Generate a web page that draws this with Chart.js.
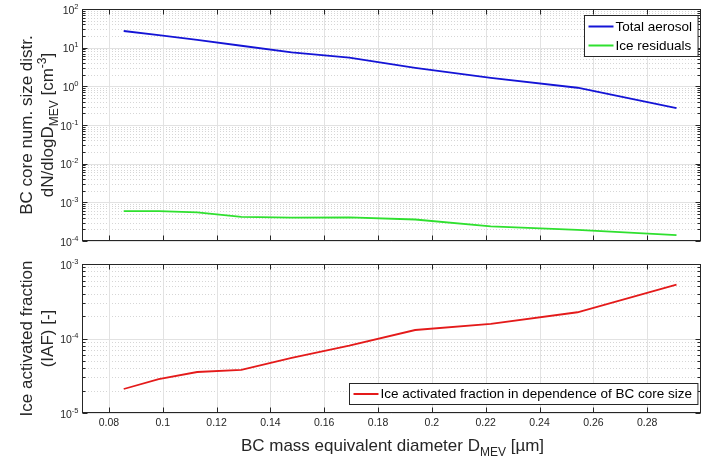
<!DOCTYPE html>
<html>
<head>
<meta charset="utf-8">
<script src="https://cdn.jsdelivr.net/npm/chart.js@4/dist/chart.umd.min.js"></script>
<style>
html,body{margin:0;padding:0;background:#fff;}
#wrap{position:relative;width:709px;height:457px;overflow:hidden;}
canvas{position:absolute;left:0;top:0;}
</style>
</head>
<body>
<div id="wrap">
<canvas id="c1" width="709" height="457"></canvas>
<canvas id="c2" width="709" height="457"></canvas>
</div>
<script>
// ---- data ----
const diameters    = [0.0855, 0.0985, 0.1128, 0.1292, 0.1479, 0.1693, 0.1938, 0.2219, 0.2541, 0.2909];
const totalAerosol = [27.0, 21.0, 16.0, 11.2, 7.6, 5.5, 3.0, 1.65, 0.92, 0.275];
const iceResiduals = [5.9e-4, 5.9e-4, 5.5e-4, 4.2e-4, 4.0e-4, 4.1e-4, 3.6e-4, 2.4e-4, 1.95e-4, 1.42e-4];
const iaf          = [2.1e-5, 2.85e-5, 3.55e-5, 3.8e-5, 5.5e-5, 8.0e-5, 1.3e-4, 1.57e-4, 2.25e-4, 5.3e-4];
const xTicks       = [0.08, 0.1, 0.12, 0.14, 0.16, 0.18, 0.2, 0.22, 0.24, 0.26, 0.28];
const xTickLabels  = ['0.08','0.1','0.12','0.14','0.16','0.18','0.2','0.22','0.24','0.26','0.28'];
const topExponents = [2, 1, 0, -1, -2, -3, -4];
const botExponents = [-3, -4, -5];
const legendTop    = ['Total aerosol', 'Ice residuals'];
const legendBottom = ['Ice activated fraction in dependence of BC core size'];

const FONT = '"Liberation Sans", Arial, Helvetica, sans-serif';
const AX = '#262626';

function richWidth(ctx, segs){
  let w = 0;
  segs.forEach(s => { ctx.font = s[1] + 'px ' + FONT; w += ctx.measureText(s[0]).width; });
  return w;
}
function rich(ctx, segs, x, y, align){
  const w = richWidth(ctx, segs);
  let cx = align === 'center' ? x - w/2 : (align === 'right' ? x - w : x);
  ctx.textAlign = 'left';
  ctx.textBaseline = 'alphabetic';
  segs.forEach(s => {
    ctx.font = s[1] + 'px ' + FONT;
    ctx.fillText(s[0], cx, y + s[2]);
    cx += ctx.measureText(s[0]).width;
  });
}

function matlabPlugin(cfg){
  return {
    id: 'matlab',
    beforeDatasetsDraw(chart){
      const {ctx, chartArea: a, scales: {x, y}} = chart;
      ctx.save();
      ctx.lineWidth = 1;
      ctx.strokeStyle = '#d6d6d6';
      ctx.setLineDash([1, 2]);
      const ex = cfg.exps;
      const lo = Math.min(...ex), hi = Math.max(...ex);
      for (let d = lo; d < hi; d++){
        for (let k = 2; k <= 9; k++){
          const py = Math.round(y.getPixelForValue(k * Math.pow(10, d))) + 0.5;
          ctx.beginPath(); ctx.moveTo(a.left, py); ctx.lineTo(a.right, py); ctx.stroke();
        }
      }
      ctx.setLineDash([]);
      ctx.strokeStyle = '#e2e2e2';
      ex.forEach(e => {
        const py = Math.round(y.getPixelForValue(Math.pow(10, e))) + 0.5;
        ctx.beginPath(); ctx.moveTo(a.left, py); ctx.lineTo(a.right, py); ctx.stroke();
      });
      xTicks.forEach(t => {
        const px = Math.round(x.getPixelForValue(t)) + 0.5;
        ctx.beginPath(); ctx.moveTo(px, a.top); ctx.lineTo(px, a.bottom); ctx.stroke();
      });
      ctx.restore();
    },
    afterDatasetsDraw(chart){
      const {ctx, chartArea: a, scales: {x, y}} = chart;
      ctx.save();
      ctx.strokeStyle = AX;
      ctx.lineWidth = 1;
      const L = Math.round(a.left) + 0.5, R = Math.round(a.right) - 0.5;
      const T = Math.round(a.top) + 0.5, B = Math.round(a.bottom) - 0.5;
      ctx.beginPath();
      xTicks.forEach(t => {
        const px = Math.round(x.getPixelForValue(t)) + 0.5;
        ctx.moveTo(px, B); ctx.lineTo(px, B - 5);
        ctx.moveTo(px, T); ctx.lineTo(px, T + 5);
      });
      const ex = cfg.exps;
      const lo = Math.min(...ex), hi = Math.max(...ex);
      for (let d = lo; d <= hi; d++){
        for (let k = 1; k <= 9; k++){
          if (d === hi && k > 1) break;
          const py = Math.round(y.getPixelForValue(k * Math.pow(10, d))) + 0.5;
          const len = k === 1 ? 5 : 3;
          ctx.moveTo(L, py); ctx.lineTo(L + len, py);
          ctx.moveTo(R, py); ctx.lineTo(R - len, py);
        }
      }
      ctx.stroke();
      ctx.strokeRect(L, T, R - L, B - T);

      ctx.fillStyle = '#262626';
      ex.forEach(e => {
        const py = y.getPixelForValue(Math.pow(10, e));
        rich(ctx, [['10', 10.5, 0], [String(e), 7.5, -5]], L - 4, py + 4.5, 'right');
      });
      if (cfg.xLabels){
        ctx.font = '10.5px ' + FONT;
        ctx.textAlign = 'center'; ctx.textBaseline = 'middle';
        xTicks.forEach((t, i) => {
          ctx.fillText(xTickLabels[i], x.getPixelForValue(t), B + 11);
        });
        rich(ctx, [['BC mass equivalent diameter D', 17, 0], ['MEV', 12, 5], [' [\u00b5m]', 17, 0]],
             (a.left + a.right)/2 + 1, B + 38, 'center');
      }
      const cy = (a.top + a.bottom)/2;
      cfg.yTitle.forEach((segs, i) => {
        ctx.save();
        ctx.translate(cfg.yTitleX[i], cy);
        ctx.rotate(-Math.PI/2);
        rich(ctx, segs, 0, 0, 'center');
        ctx.restore();
      });
      const lg = cfg.legend;
      ctx.font = '13.5px ' + FONT;
      let tw = 0;
      chart.data.datasets.forEach(ds => { tw = Math.max(tw, ctx.measureText(ds.label).width); });
      const rowH = lg.rowH, n = chart.data.datasets.length;
      const bw = tw + 37, bh = n * rowH + lg.padV * 2;
      const bx = Math.round(lg.right - bw) + 0.5;
      const by = Math.round(lg.top) + 0.5;
      ctx.fillStyle = '#fff';
      ctx.fillRect(bx, by, bw, bh);
      ctx.strokeStyle = AX;
      ctx.strokeRect(bx, by, bw, bh);
      chart.data.datasets.forEach((ds, i) => {
        const ry = by + lg.padV + rowH * (i + 0.5);
        ctx.strokeStyle = ds.borderColor;
        ctx.lineWidth = 2;
        ctx.beginPath(); ctx.moveTo(bx + 4, ry); ctx.lineTo(bx + 29, ry); ctx.stroke();
        ctx.fillStyle = '#000';
        ctx.textAlign = 'left'; ctx.textBaseline = 'middle';
        ctx.fillText(ds.label, bx + 31, ry + 0.5);
      });
      ctx.restore();
    }
  };
}

function pts(ys){ return diameters.map((d, i) => ({x: d, y: ys[i]})); }

function makeChart(id, datasets, yMin, yMax, padding, cfg){
  return new Chart(document.getElementById(id), {
    type: 'line',
    data: {datasets},
    options: {
      responsive: false,
      animation: false,
      devicePixelRatio: 1,
      layout: {padding},
      plugins: {legend: {display: false}, tooltip: {enabled: false}},
      elements: {point: {radius: 0}, line: {tension: 0, borderWidth: 1.8}},
      scales: {
        x: {type: 'linear', min: 0.07, max: 0.30, display: false},
        y: {type: 'logarithmic', min: yMin, max: yMax, display: false}
      }
    },
    plugins: [matlabPlugin(cfg)]
  });
}

makeChart('c1', [
  {label: legendTop[0], data: pts(totalAerosol), borderColor: '#1414d6', fill: false},
  {label: legendTop[1], data: pts(iceResiduals), borderColor: '#2fe02f', fill: false}
], 1e-4, 1e2, {left: 82, top: 9, right: 8, bottom: 216}, {
  exps: topExponents,
  xLabels: false,
  yTitle: [
    [['BC core num. size distr.', 17, 0]],
    [['dN/dlogD', 17, 0], ['MEV', 12, 5], [' [cm', 17, 0], ['-3', 12, -7], [']', 17, 0]]
  ],
  yTitleX: [32, 53],
  legend: {right: 698, top: 15, rowH: 19, padV: 1.5}
});

makeChart('c2', [
  {label: legendBottom[0], data: pts(iaf), borderColor: '#e41a1a', fill: false}
], 1e-5, 1e-3, {left: 82, top: 264, right: 8, bottom: 44}, {
  exps: botExponents,
  xLabels: true,
  yTitle: [
    [['Ice activated fraction', 17, 0]],
    [['(IAF) [-]', 17, 0]]
  ],
  yTitleX: [32, 53],
  legend: {right: 697, top: 383, rowH: 20, padV: 0.5}
});
</script>
</body>
</html>
